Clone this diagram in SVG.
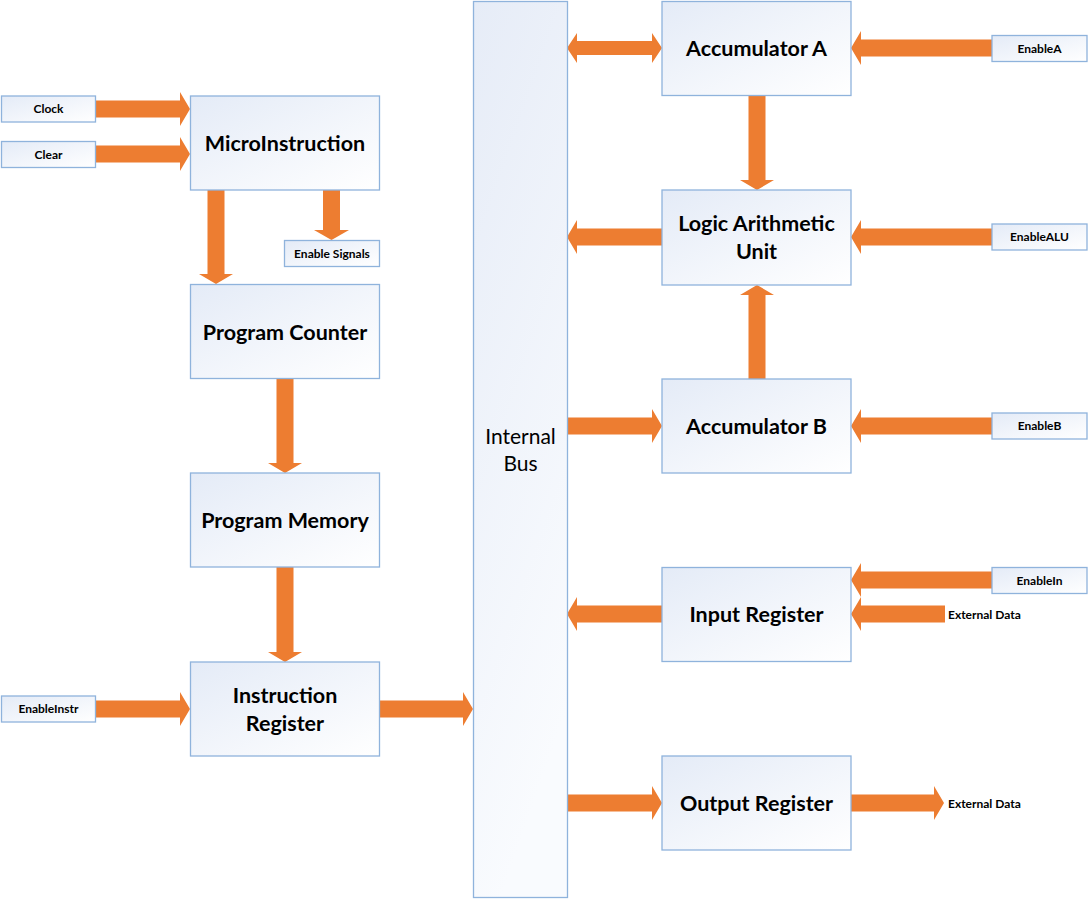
<svg xmlns="http://www.w3.org/2000/svg" width="1088" height="899" viewBox="0 0 1088 899">
<defs>
<linearGradient id="g" x1="0" y1="0" x2="1" y2="1">
<stop offset="0" stop-color="#e4ebf7"/>
<stop offset="1" stop-color="#ffffff"/>
</linearGradient>
<linearGradient id="gb" x1="0" y1="0" x2="0.3" y2="1">
<stop offset="0" stop-color="#e6ecf7"/>
<stop offset="1" stop-color="#f9fbfe"/>
</linearGradient>
<style>
.box{fill:url(#g);stroke:#8fb3dc;stroke-width:1.3}
.bus{fill:url(#gb);stroke:#8fb3dc;stroke-width:1.3}
.arr{fill:#ed7d31}
.t{font-family:Lato,"Open Sans","Liberation Sans",sans-serif;font-weight:bold;font-size:21.5px;fill:#000;text-anchor:middle}
.s{font-family:Lato,"Open Sans","Liberation Sans",sans-serif;font-weight:bold;font-size:12px;fill:#000;text-anchor:middle}
.sl{font-family:Lato,"Open Sans","Liberation Sans",sans-serif;font-weight:bold;font-size:12px;fill:#000}
.r{font-family:Lato,"Open Sans","Liberation Sans",sans-serif;font-size:21px;fill:#000;text-anchor:middle}
</style>
</defs>
<rect width="1088" height="899" fill="#ffffff"/>
<g id="connectors">
<polygon class="arr" points="95,100.5 180,100.5 180,92 190,109 180,126 180,117.5 95,117.5"/>
<polygon class="arr" points="95,145.5 180,145.5 180,137 190,154 180,171 180,162.5 95,162.5"/>
<polygon class="arr" points="207.5,190 207.5,274 199,274 216,284 233,274 224.5,274 224.5,190"/>
<polygon class="arr" points="323,190 323,230 314,230 331.5,240 349,230 340,230 340,190"/>
<polygon class="arr" points="276.5,379 276.5,463 268,463 285,473 302,463 293.5,463 293.5,379"/>
<polygon class="arr" points="276.5,567 276.5,652 268,652 285,662 302,652 293.5,652 293.5,567"/>
<polygon class="arr" points="95,700.5 180,700.5 180,692 190,709 180,726 180,717.5 95,717.5"/>
<polygon class="arr" points="379,700.5 463,700.5 463,692 473,709 463,726 463,717.5 379,717.5"/>
<polygon class="arr" points="567,48 577,33 577,41 652,41 652,33 662,48 652,63 652,55 577,55 577,63"/>
<polygon class="arr" points="992,39.5 861,39.5 861,31 851,48 861,65 861,56.5 992,56.5"/>
<polygon class="arr" points="748.5,96 748.5,180 740,180 757,190 774,180 765.5,180 765.5,96"/>
<polygon class="arr" points="662,228.5 577,228.5 577,220 567,237 577,254 577,245.5 662,245.5"/>
<polygon class="arr" points="992,228.5 861,228.5 861,220 851,237 861,254 861,245.5 992,245.5"/>
<polygon class="arr" points="748.5,379 748.5,295 740,295 757,285 774,295 765.5,295 765.5,379"/>
<polygon class="arr" points="567,417.5 652,417.5 652,409 662,426 652,443 652,434.5 567,434.5"/>
<polygon class="arr" points="992,417.5 861,417.5 861,409 851,426 861,443 861,434.5 992,434.5"/>
<polygon class="arr" points="662,605.5 577,605.5 577,597 567,614 577,631 577,622.5 662,622.5"/>
<polygon class="arr" points="992,571.5 861,571.5 861,563 851,580 861,597 861,588.5 992,588.5"/>
<polygon class="arr" points="945,605.5 861,605.5 861,597 851,614 861,631 861,622.5 945,622.5"/>
<polygon class="arr" points="567,794.5 652,794.5 652,786 662,803 652,820 652,811.5 567,811.5"/>
<polygon class="arr" points="851,794.5 934,794.5 934,786 944,803 934,820 934,811.5 851,811.5"/>
</g>
<g id="clock"><rect class="box" x="1.5" y="96" width="94" height="26"/><text class="s" x="48.5" y="113">Clock</text></g>
<g id="clear"><rect class="box" x="1.5" y="141.5" width="94" height="26"/><text class="s" x="48.5" y="158.5">Clear</text></g>
<g id="microinstruction"><rect class="box" x="190.5" y="96" width="189" height="94"/><text class="t" x="285" y="150.5">MicroInstruction</text></g>
<g id="enable-signals"><rect class="box" x="284.5" y="240.5" width="95" height="26"/><text class="s" x="332" y="257.5">Enable Signals</text></g>
<g id="program-counter"><rect class="box" x="190.5" y="284.5" width="189" height="94"/><text class="t" x="285" y="339.5">Program Counter</text></g>
<g id="program-memory"><rect class="box" x="190.5" y="473" width="189" height="94"/><text class="t" x="285" y="527.5">Program Memory</text></g>
<g id="enable-instr"><rect class="box" x="1.5" y="696" width="94" height="26"/><text class="s" x="48.5" y="713">EnableInstr</text></g>
<g id="instruction-register"><rect class="box" x="190.5" y="662" width="189" height="94"/><text class="t" x="285" y="702.5">Instruction</text><text class="t" x="285" y="730.5">Register</text></g>
<g id="internal-bus"><rect class="bus" x="473.5" y="1.5" width="94" height="896"/><text class="r" x="520.5" y="444">Internal</text><text class="r" x="520.5" y="470.5">Bus</text></g>
<g id="accumulator-a"><rect class="box" x="662" y="1.5" width="189" height="94"/><text class="t" x="756.5" y="55.5">Accumulator A</text></g>
<g id="enable-a"><rect class="box" x="992" y="35.5" width="95" height="26"/><text class="s" x="1039.5" y="52.5">EnableA</text></g>
<g id="alu"><rect class="box" x="662" y="190" width="189" height="95"/><text class="t" x="756.5" y="230.5">Logic Arithmetic</text><text class="t" x="756.5" y="258.5">Unit</text></g>
<g id="enable-alu"><rect class="box" x="992" y="224" width="95" height="26"/><text class="s" x="1039.5" y="241">EnableALU</text></g>
<g id="accumulator-b"><rect class="box" x="662" y="379" width="189" height="94"/><text class="t" x="756.5" y="433.5">Accumulator B</text></g>
<g id="enable-b"><rect class="box" x="992" y="413" width="95" height="26"/><text class="s" x="1039.5" y="430">EnableB</text></g>
<g id="input-register"><rect class="box" x="662" y="567.5" width="189" height="94"/><text class="t" x="756.5" y="621.5">Input Register</text></g>
<g id="enable-in"><rect class="box" x="992" y="567.5" width="95" height="26"/><text class="s" x="1039.5" y="584.5">EnableIn</text></g>
<g id="external-data-in"><text class="sl" x="948" y="619">External Data</text></g>
<g id="output-register"><rect class="box" x="662" y="756" width="189" height="94"/><text class="t" x="756.5" y="810.5">Output Register</text></g>
<g id="external-data-out"><text class="sl" x="948" y="807.5">External Data</text></g>
</svg>
